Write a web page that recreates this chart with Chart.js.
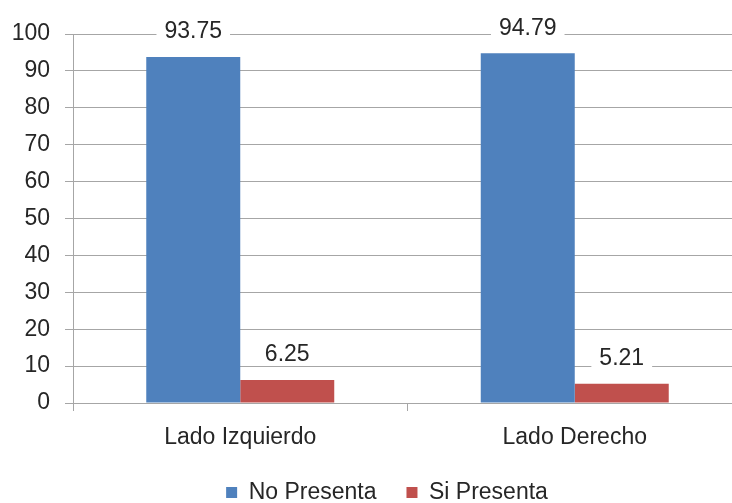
<!DOCTYPE html>
<html>
<head>
<meta charset="utf-8">
<script src="https://cdn.jsdelivr.net/npm/chart.js@4/dist/chart.umd.min.js"></script>
<style>
  html, body { margin: 0; padding: 0; background: #fff; overflow: hidden; }
  #wrap { width: 760px; height: 503px; }
</style>
</head>
<body>
<div id="wrap"><canvas id="c" width="760" height="503"></canvas></div>
<script>
// Categories and series
const categories = ['Lado Izquierdo', 'Lado Derecho'];
const noPresenta = [93.75, 94.79];
const siPresenta = [6.25, 5.21];
const seriesNames = ['No Presenta', 'Si Presenta'];

const FONT = '"Liberation Sans", Arial, sans-serif';
const FS = 23;
const TEXT = '#262626';
const GRID = '#a6a6a6';

// Value labels drawn above each bar on a white box
const valueLabels = {
  id: 'valueLabels',
  afterDatasetsDraw(chart) {
    const ctx = chart.ctx;
    ctx.save();
    ctx.font = FS + 'px ' + FONT;
    ctx.textAlign = 'center';
    ctx.textBaseline = 'middle';
    chart.data.datasets.forEach((ds, i) => {
      chart.getDatasetMeta(i).data.forEach((bar, j) => {
        const txt = ds.data[j].toFixed(2);
        const w = ctx.measureText(txt).width + 16;
        const h = 22;
        const cy = bar.y - 25;
        ctx.fillStyle = '#fff';
        ctx.fillRect(bar.x - w / 2, cy - h / 2 - 1, w, h);
        ctx.fillStyle = TEXT;
        ctx.fillText(txt, bar.x, cy);
      });
    });
    ctx.restore();
  }
};

// Fixed height for the bottom legend band, nudged right
const legendBox = {
  id: 'legendBox',
  afterInit(chart) {
    const lg = chart.legend;
    if (!lg) return;
    const fit = lg.fit;
    lg.fit = function () { fit.call(this); this.height = 52; };
  },
  afterLayout(chart) {
    const lg = chart.legend;
    if (!lg) return;
    lg.left += 16;
    lg.right += 16;
  }
};

new Chart(document.getElementById('c'), {
  type: 'bar',
  data: {
    labels: categories,
    datasets: [
      { label: seriesNames[0], data: noPresenta, backgroundColor: '#4f81bd' },
      { label: seriesNames[1], data: siPresenta, backgroundColor: '#c0504d' }
    ]
  },
  options: {
    responsive: false,
    animation: false,
    layout: { padding: { top: 34, right: 18, left: 0, bottom: 0 } },
    datasets: { bar: { categoryPercentage: 0.562, barPercentage: 1.0 } },
    plugins: {
      legend: {
        position: 'bottom',
        labels: {
          boxWidth: 11, boxHeight: 11, padding: 30,
          color: TEXT, font: { family: FONT, size: FS }
        }
      },
      tooltip: { enabled: false }
    },
    scales: {
      x: {
        grid: { offset: true, drawOnChartArea: false, drawTicks: true, tickLength: 8, color: GRID },
        border: { color: GRID },
        ticks: { color: TEXT, font: { family: FONT, size: FS }, padding: 13 },
        afterFit(scale) { scale.height = 48; }
      },
      y: {
        min: 0, max: 100,
        ticks: { stepSize: 10, color: TEXT, font: { family: FONT, size: FS }, padding: 15 },
        grid: { color: GRID, tickLength: 8 },
        border: { color: GRID },
        afterFit(scale) { scale.width = 73; }
      }
    }
  },
  plugins: [valueLabels, legendBox]
});
</script>
</body>
</html>
